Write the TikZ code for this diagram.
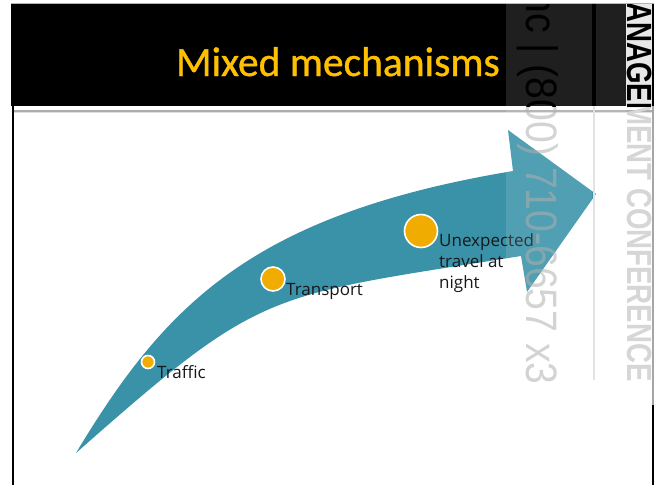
\documentclass[tikz,border=0pt]{standalone}
\usepackage{fontspec}
\setmainfont{Open Sans}
\newfontfamily\titlefont[FakeBold=0.9]{Carlito}
\newfontfamily\phonefont[FakeStretch=0.89]{Liberation Sans}
\newfontfamily\bannerfont[FakeStretch=0.79]{Liberation Sans}
\definecolor{arrowblue}{RGB}{57,146,168}
\definecolor{dotgold}{RGB}{240,172,0}
\definecolor{titlegold}{RGB}{255,192,0}
\definecolor{labelink}{RGB}{24,24,28}
\definecolor{wmgray}{RGB}{176,176,176}
\definecolor{bannergray}{RGB}{214,214,214}
\tikzset{
  dot/.style={circle, fill=dotgold, draw=white, line width=1.6pt, inner sep=0pt},
  lbl/.style={font=\fontsize{17}{21}\selectfont, text=labelink, inner sep=0pt, align=left},
  phone/.style={rotate=-90, inner sep=0pt, font=\phonefont\fontsize{44}{44}\selectfont},
  banner/.style={rotate=-90, inner sep=0pt, font=\bannerfont\bfseries\fontsize{35}{35}\selectfont}
}
\begin{document}
\begin{tikzpicture}[x=1pt,y=-1pt]
\useasboundingbox (0,0) rectangle (662,485);
\clip (0,0) rectangle (662,485);
\fill[white] (0,0) rectangle (662,485);

% title bar
\fill[black] (11,4) rectangle (654,106);
\draw[gray!60, line width=0.8pt] (11,3.4) -- (654,3.4);
\node[anchor=base east, inner sep=0pt, text=titlegold, font=\titlefont\fontsize{41.5}{42}\selectfont] (title) at (500,76) {Mixed mechanisms};

% rules under the title bar and slide frame
\draw[gray!65, line width=2pt] (14,110.5) -- (653,110.5);
\draw[gray!25, line width=1pt] (14,112.6) -- (653,112.6);
\draw[black, line width=2.5pt] (13,106) -- (13,485);
\draw[gray!70, line width=2pt] (653,106) -- (653,405);
\draw[black, line width=2pt] (653,405) -- (653,485);

% curved arrow
\fill[arrowblue] (76,453) .. controls (164,307) and (249,215) .. (513,171)
  -- (508,130) -- (596,194) -- (527,292) -- (521,256)
  .. controls (263,297) and (263,288) .. (76,453) -- cycle;

% milestones
\node[dot, minimum size=13pt] (d1) at (148,362) {};
\node[dot, minimum size=24pt] (d2) at (273,279) {};
\node[dot, minimum size=33pt] (d3) at (421,231) {};
\node[lbl, anchor=base west] (l1) at (157,378) {Traffic};
\node[lbl, anchor=base west] (l2) at (286,295) {Transport};
% the base anchor of a multi-line node sits on its last line
\node[lbl, anchor=base west] (l3) at (439,288) {Unexpected\\travel at\\night};

% side banner strip
\fill[white, opacity=0.12] (506,0) rectangle (592,485);
\fill[white, opacity=0.12] (595.5,0) rectangle (626,485);
\fill[black] (592,4) rectangle (595.5,106);
\draw[gray!22, line width=2.5pt] (594,106) -- (594,380);
\fill[gray!18] (626,4) rectangle (652,106);

\begin{scope}
  \clip (506,106) rectangle (662,485);
  \node[phone, anchor=base east, text=wmgray, opacity=0.55] (ph) at (526,385) {nc | (800) 710-6657 x3};
  \node[banner, anchor=base east, text=bannergray] (bn) at (627,382) {ANAGEMENT CONFERENCE};
\end{scope}
\begin{scope}
  \clip (506,4) rectangle (652,106);
  \node[phone, anchor=base east, text=black] (phtop) at (526,385) {nc | (800) 710-6657 x3};
  \node[banner, anchor=base east, text=black] (bntop) at (627,382) {ANAGEMENT CONFERENCE};
\end{scope}
\end{tikzpicture}
\end{document}
